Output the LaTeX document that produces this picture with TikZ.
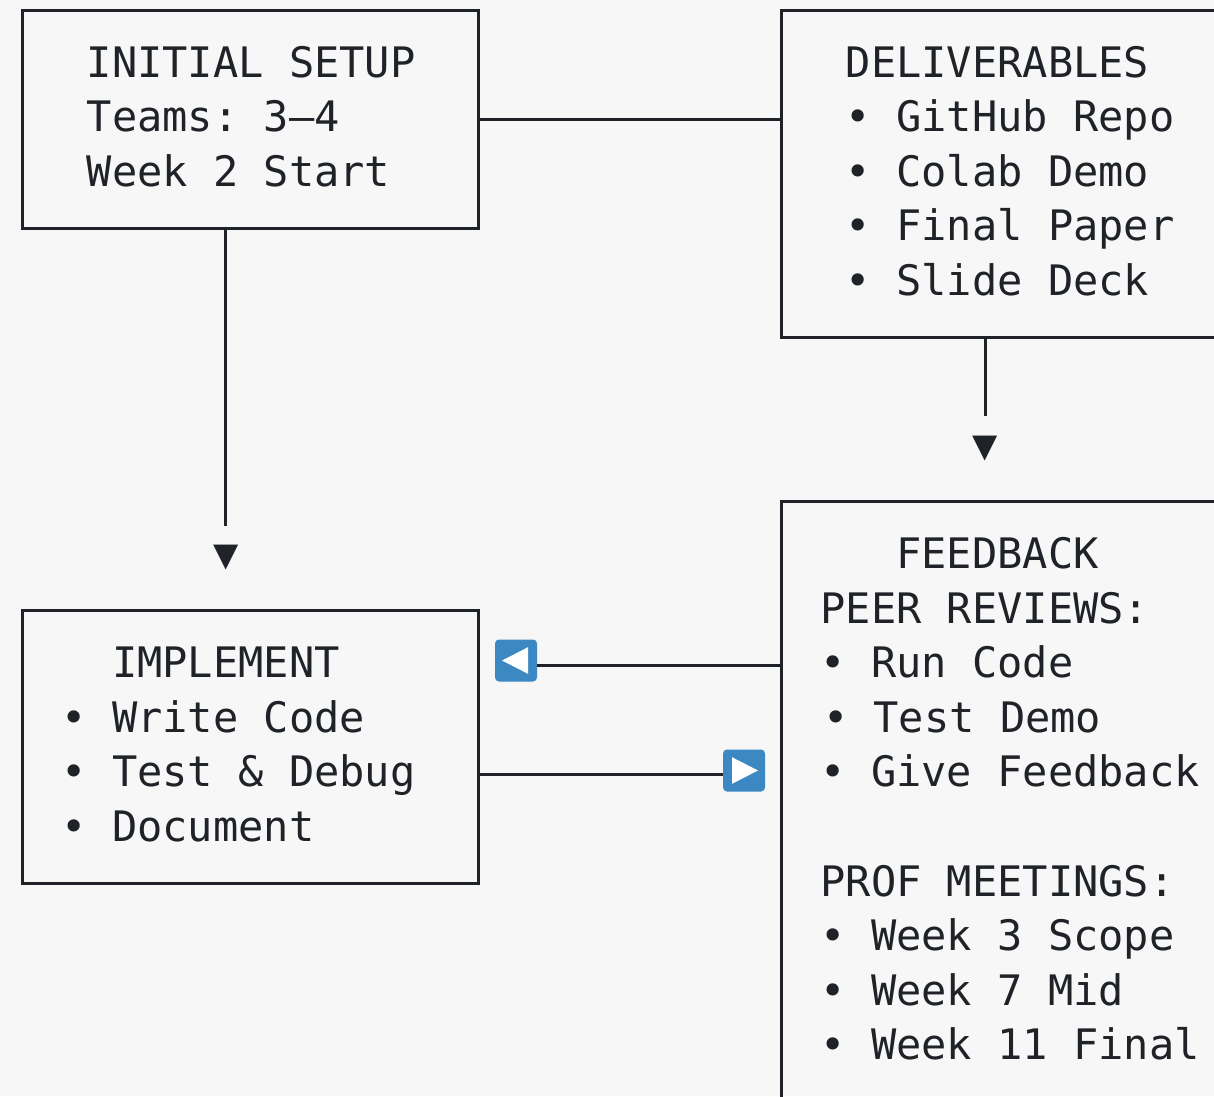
\documentclass[tikz,border=0pt]{standalone}
\usepackage{fontspec}
\newfontfamily\monofont{DejaVu Sans Mono}
\definecolor{ink}{HTML}{1F2328}
\definecolor{bg}{HTML}{F7F7F7}
\definecolor{btnblue}{HTML}{3B88C3}
\frenchspacing
\begin{document}
\begin{tikzpicture}[x=1pt,y=-1pt,
  box/.style={draw=ink, line width=3pt, inner sep=0pt, outer sep=0pt},
  txt/.style={anchor=base west, inner sep=0pt, outer sep=0pt, text=ink, xshift=1.5pt,
    font=\monofont\fontsize{42}{54.6}\selectfont},
  conn/.style={draw=ink, line width=3pt},
  btn/.style={fill=btnblue, rounded corners=4pt, minimum size=42pt, inner sep=0pt, outer sep=0pt}]
\useasboundingbox (0,0) rectangle (1214,1096);
\fill[bg] (0,0) rectangle (1214,1096);
\clip (0,0) rectangle (1214,1096);

% boxes
\node[box, minimum width=456pt, minimum height=218.4pt] (setup) at (250,119.2) {};
\node[box, minimum width=479pt, minimum height=327.6pt] (deliv) at (1020.5,173.8) {};
\node[box, minimum width=456pt, minimum height=273pt] (impl) at (250,747.1) {};
\node[box, minimum width=479pt, minimum height=648.6pt] (feed) at (1020.5,825.7) {};

% INITIAL SETUP
\node[txt] (s1) at (85.25,77.1) {INITIAL SETUP};
\node[txt] (s2) at (85.25,131.7) {Teams: 3–4};
\node[txt] (s3) at (85.25,186.3) {Week 2 Start};

% DELIVERABLES
\node[txt] (d0) at (844.25,77.1) {DELIVERABLES};
\node[txt] (d1) at (844.25,131.7) {• GitHub Repo};
\node[txt] (d2) at (844.25,186.3) {• Colab Demo};
\node[txt] (d3) at (844.25,240.9) {• Final Paper};
\node[txt] (d4) at (844.25,295.5) {• Slide Deck};

% IMPLEMENT
\node[txt] (i0) at (110.55,677.7) {IMPLEMENT};
\node[txt] (i1) at (59.95,732.3) {• Write Code};
\node[txt] (i2) at (59.95,786.9) {• Test \& Debug};
\node[txt] (i3) at (59.95,841.5) {• Document};

% FEEDBACK
\node[txt] (f0) at (894.85,568.5) {FEEDBACK};
\node[txt] (f1) at (818.95,623.1) {PEER REVIEWS:};
\node[txt] (f2) at (818.95,677.7) {• Run Code};
\node[txt] (f3) at (821.5,732.3) {• Test Demo};
\node[txt] (f4) at (818.95,786.9) {• Give Feedback};
\node[txt] (f5) at (818.95,896.1) {PROF MEETINGS:};
\node[txt] (f6) at (818.95,950.7) {• Week 3 Scope};
\node[txt] (f7) at (818.95,1005.3) {• Week 7 Mid};
\node[txt] (f8) at (818.95,1059.9) {• Week 11 Final};

% connectors
\draw[conn] (setup.east) -- (setup.east -| deliv.west);

\coordinate (e1) at (225,526);
\draw[conn] (setup.south -| e1) -- (e1);
\node[txt] (arr1) at (211.75,568.5) {▼};

\coordinate (e2) at (985,416);
\draw[conn] (deliv.south -| e2) -- (e2);
\node[txt] (arr2) at (970.75,459.3) {▼};

% left button
\node[btn] (lbtn) at (516,660.5) {};
\fill[white] ([xshift=-14pt]lbtn.center) -- ([xshift=12pt,yshift=13.3pt]lbtn.center) -- ([xshift=12pt,yshift=-13.3pt]lbtn.center) -- cycle;
\draw[conn] (lbtn.east |- 0,665.2) -- (feed.west |- 0,665.2);

% right button
\node[btn] (rbtn) at (744,770.5) {};
\fill[white] ([xshift=14pt]rbtn.center) -- ([xshift=-12pt,yshift=13.3pt]rbtn.center) -- ([xshift=-12pt,yshift=-13.3pt]rbtn.center) -- cycle;
\draw[conn] (impl.east |- 0,774.4) -- (rbtn.west |- 0,774.4);
\end{tikzpicture}
\end{document}
